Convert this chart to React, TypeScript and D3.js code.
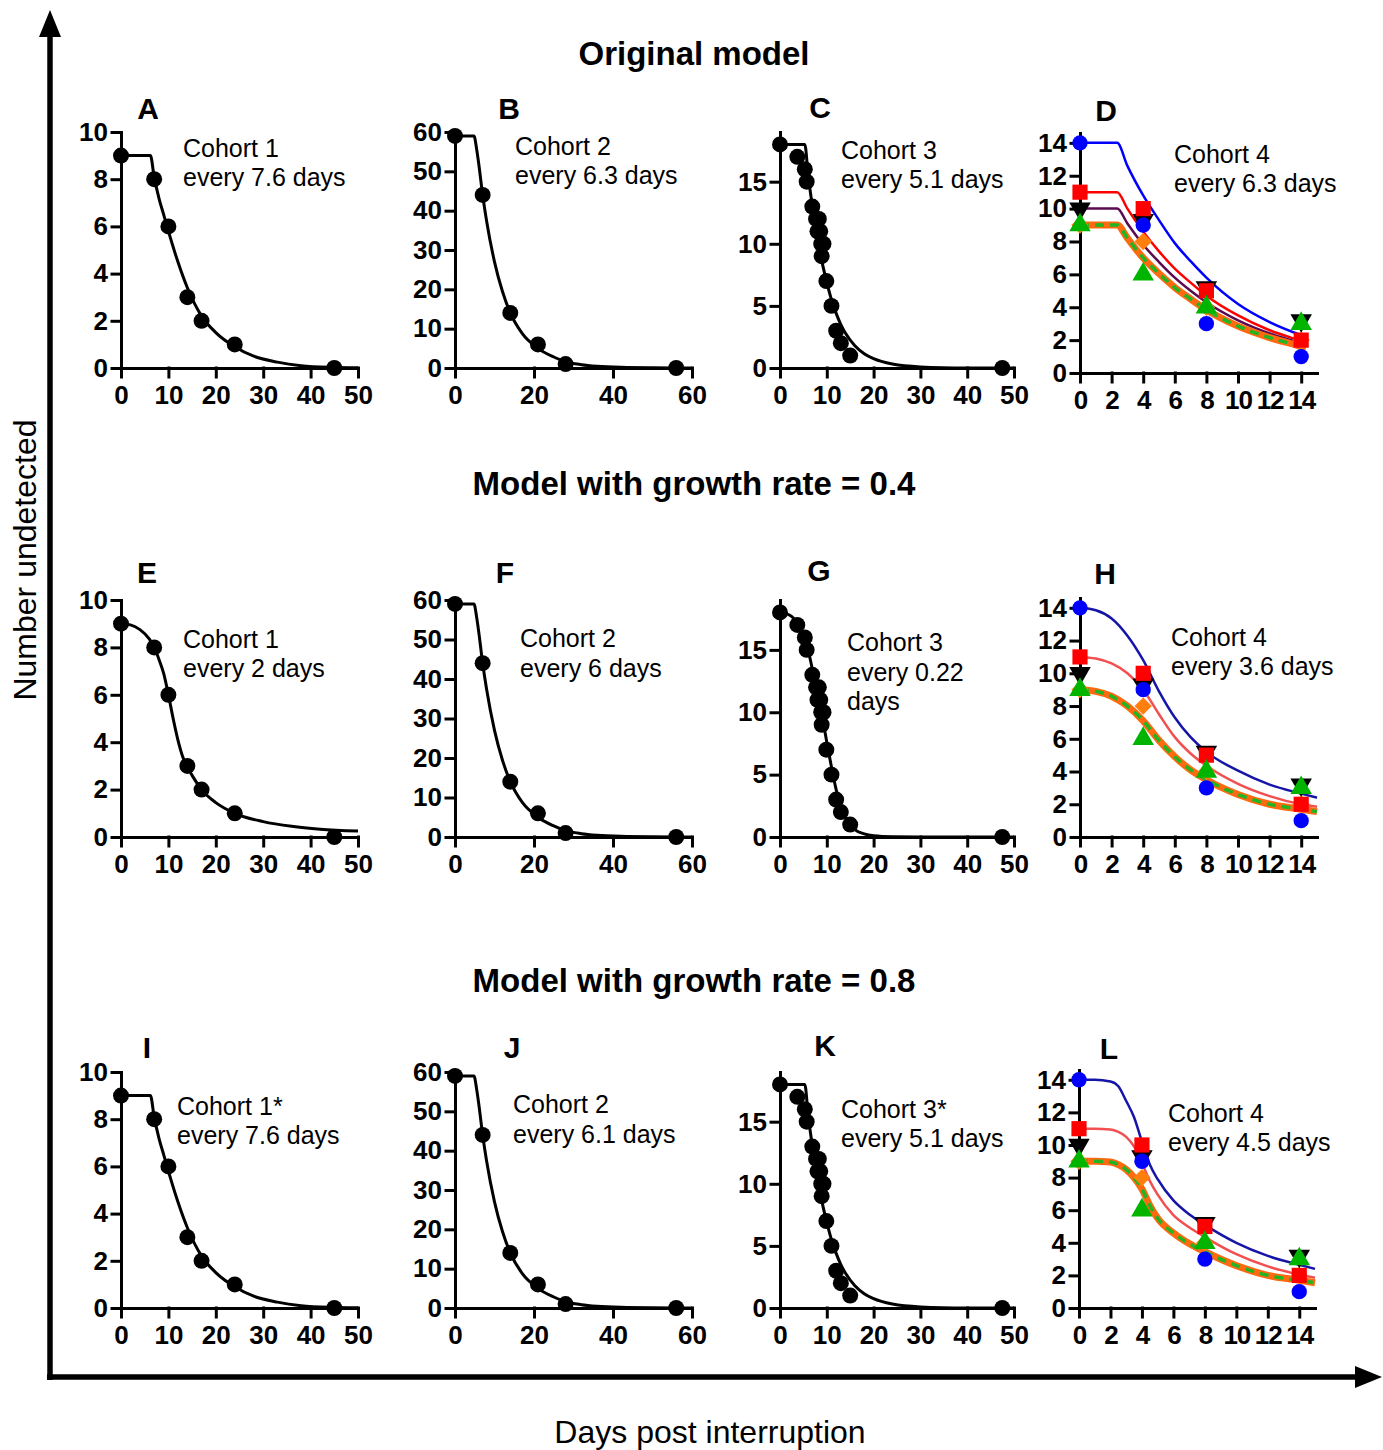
import React, { useEffect, useRef } from 'react'
import * as d3 from 'd3'

const W = 1383
const H = 1450
const FONT = '"Liberation Sans", Arial, Helvetica, sans-serif'

// observed counts per cohort
const cohort1Days = [0, 7, 10, 14, 17, 24, 45]
const cohort1Counts = [9, 8, 6, 3, 2, 1, 0]
const cohort2Days = [0, 7, 14, 21, 28, 56]
const cohort2Counts = [59, 44, 14, 6, 1, 0]
const cohort3Days = [0, 3.7, 5.3, 5.7, 6.9, 7.7, 8.3, 8.0, 8.6, 8.8, 9.3, 8.9, 9.9, 11.0, 12.0, 13.0, 15.0, 47.5]
const cohort3Counts = [18, 17, 16, 15, 13, 12, 12, 11, 11, 10, 10, 9, 7, 5, 3, 2, 1, 0]
const cohort4Days = [0, 4, 8, 14]
const subjBlue = [14, 9, 3, 1]
const subjRed = [11, 10, 5, 2]
const subjBlack = [10, 9.3, 5.2, 3.2]
const subjOrange = [9, 8, 4, 2]
const subjGreen = [9, 6, 4, 3]

// model curves
const fitADays = [0, 6.2, 7, 8, 9, 10, 12, 14, 17, 20, 24, 28, 33, 38, 44, 50]
const fitAVals = [9, 9, 8.1, 7.2, 6.5, 5.8, 4.5, 3.4, 2.2, 1.5, 0.9, 0.5, 0.25, 0.1, 0.03, 0.01]
const fitEDays = [0, 2, 4, 6, 7, 8, 9, 10, 11, 12, 13, 14, 15, 17, 20, 24, 30, 36, 42, 50]
const fitEVals = [9, 8.95, 8.75, 8.35, 8.0, 7.5, 6.9, 6.0, 5.0, 4.1, 3.4, 2.95, 2.6, 2.0, 1.45, 1.0, 0.65, 0.45, 0.33, 0.25]
const fitBDays = [0, 4.8, 5.5, 6, 7, 8, 10, 12, 14, 17, 21, 25, 28, 32, 36, 42, 50, 60]
const fitBVals = [59, 59, 55.5, 52, 44, 37.4, 27, 19.5, 14, 8.8, 5.0, 2.8, 1.6, 0.85, 0.45, 0.17, 0.05, 0.01]
const fitCDays = [0, 5.3, 6, 7, 8, 9, 10, 11, 12, 13, 14, 16, 18, 20, 24, 30, 40, 50]
const fitCVals = [18, 18, 15.6, 12.8, 10.5, 8.5, 6.9, 5.5, 4.4, 3.5, 2.8, 1.8, 1.15, 0.75, 0.32, 0.09, 0.01, 0]
const fitGDays = [0, 1, 2, 3, 4, 5, 6, 7, 8, 9, 10, 11, 12, 13, 14, 15, 16, 18, 20, 24, 30, 50]
const fitGVals = [18, 17.95, 17.8, 17.5, 17.0, 16.2, 15.0, 13.3, 11.6, 9.7, 7.6, 5.6, 3.8, 2.5, 1.6, 1.0, 0.6, 0.25, 0.1, 0.02, 0, 0]

const fitDDays = [0, 2.35, 3, 4, 5, 6, 7, 8, 10, 12, 14, 14.3]
const fitDBlue = [14, 14, 12.6, 10.8, 9.3, 7.9, 6.8, 5.8, 4.2, 3.1, 2.3, 2.2]
const fitDRed = [11, 11, 10, 8.6, 7.4, 6.35, 5.5, 4.7, 3.5, 2.6, 1.95, 1.85]
const fitDPurple = [10, 10, 9.1, 7.8, 6.75, 5.8, 5.0, 4.3, 3.2, 2.4, 1.8, 1.7]
const fitDOrange = [9, 9, 8.2, 7.0, 6.05, 5.2, 4.5, 3.85, 2.85, 2.15, 1.6, 1.5]
const fitHDays = [0, 1, 2, 3, 4, 5, 6, 7, 8, 10, 12, 14, 15]
const fitHBlue = [14, 13.85, 13.35, 12.3, 10.8, 8.9, 7.3, 6.1, 5.2, 4.05, 3.2, 2.65, 2.4]
const fitHRed = [11, 10.9, 10.6, 10.0, 9.0, 7.5, 6.1, 5.1, 4.35, 3.25, 2.5, 2.0, 1.85]
const fitHOrange = [9, 8.9, 8.6, 8.0, 7.1, 5.9, 4.9, 4.1, 3.5, 2.6, 2.0, 1.7, 1.55]
const fitLDays = [0, 1, 2, 2.5, 3, 3.5, 4, 4.5, 5, 6, 7, 8, 10, 12, 14, 15]
const fitLBlue = [14, 14, 13.9, 13.6, 12.7, 11.7, 10.2, 8.8, 7.9, 6.6, 5.75, 5.1, 4.0, 3.2, 2.65, 2.4]
const fitLRed = [11, 11, 10.95, 10.8, 10.5, 9.9, 8.9, 7.8, 6.95, 5.7, 4.95, 4.35, 3.3, 2.55, 2.05, 1.85]
const fitLOrange = [9, 9, 8.95, 8.8, 8.5, 8.0, 7.3, 6.3, 5.5, 4.6, 3.95, 3.45, 2.6, 2.0, 1.7, 1.55]

const ticks50 = [0, 10, 20, 30, 40, 50]
const ticks60 = [0, 20, 40, 60]
const ticks14 = [0, 2, 4, 6, 8, 10, 12, 14]
const yTicks10 = [0, 2, 4, 6, 8, 10]
const yTicks60 = [0, 10, 20, 30, 40, 50, 60]
const yTicks15 = [0, 5, 10, 15]

const titles = ['Original model', 'Model with growth rate = 0.4', 'Model with growth rate = 0.8']

type Curve = { days: number[]; vals: number[]; color: string; width: number; dash?: string }
type Pts = { days: number[]; vals: number[]; shape: string; color: string }
type Panel = {
  letter: string; lx: number; ly: number
  text: string[]; tx: number; ty: number[]
  x0: number; x1: number; xMax: number; xTicks: number[]
  y0: number; y1: number; yMax: number; yTicks: number[]
  curves: Curve[]; points: Pts[]
}

const black = (days: number[], vals: number[]): Curve => ({ days, vals, color: '#000', width: 3 })
const dots = (days: number[], vals: number[]): Pts => ({ days, vals, shape: 'circle', color: '#000' })

const c4Points: Pts[] = [
  { days: cohort4Days, vals: subjOrange, shape: 'diamond', color: '#ff7f0e' },
  { days: cohort4Days, vals: subjBlack, shape: 'triDown', color: '#000' },
  { days: cohort4Days, vals: subjBlue, shape: 'dot', color: '#0000ff' },
  { days: cohort4Days, vals: subjRed, shape: 'square', color: '#ff0000' },
  { days: cohort4Days, vals: subjGreen, shape: 'triUp', color: '#00b400' },
]

const rowsY = [[368, 132], [837, 600], [1308, 1072]]

const panels: Panel[] = [
  { letter: 'A', lx: 148, ly: 119, text: ['Cohort 1', 'every 7.6 days'], tx: 183, ty: [157, 186],
    x0: 121, x1: 358, xMax: 50, xTicks: ticks50, y0: rowsY[0][0], y1: rowsY[0][1], yMax: 10, yTicks: yTicks10,
    curves: [black(fitADays, fitAVals)], points: [dots(cohort1Days, cohort1Counts)] },
  { letter: 'B', lx: 509, ly: 119, text: ['Cohort 2', 'every 6.3 days'], tx: 515, ty: [155, 184],
    x0: 455, x1: 692, xMax: 60, xTicks: ticks60, y0: rowsY[0][0], y1: rowsY[0][1], yMax: 60, yTicks: yTicks60,
    curves: [black(fitBDays, fitBVals)], points: [dots(cohort2Days, cohort2Counts)] },
  { letter: 'C', lx: 820, ly: 118, text: ['Cohort 3', 'every 5.1 days'], tx: 841, ty: [159, 188],
    x0: 780, x1: 1014, xMax: 50, xTicks: ticks50, y0: rowsY[0][0], y1: rowsY[0][1], yMax: 19, yTicks: yTicks15,
    curves: [black(fitCDays, fitCVals)], points: [dots(cohort3Days, cohort3Counts)] },
  { letter: 'D', lx: 1106, ly: 121, text: ['Cohort 4', 'every 6.3 days'], tx: 1174, ty: [163, 192],
    x0: 1080, x1: 1317, xMax: 15, xTicks: ticks14, y0: 373, y1: 133, yMax: 14.6, yTicks: ticks14,
    curves: [
      { days: fitDDays.slice(0, 11), vals: fitDBlue.slice(0, 11), color: '#0000ff', width: 2.5 },
      { days: fitDDays, vals: fitDRed, color: '#ff0000', width: 2.5 },
      { days: fitDDays, vals: fitDPurple, color: '#5a0a50', width: 2.5 },
      { days: fitDDays, vals: fitDOrange, color: '#ff6a10', width: 7 },
      { days: fitDDays, vals: fitDOrange, color: '#22b422', width: 3.5, dash: '9,6' },
    ], points: c4Points },

  { letter: 'E', lx: 147, ly: 583, text: ['Cohort 1', 'every 2 days'], tx: 183, ty: [648, 677],
    x0: 121, x1: 358, xMax: 50, xTicks: ticks50, y0: rowsY[1][0], y1: rowsY[1][1], yMax: 10, yTicks: yTicks10,
    curves: [black(fitEDays, fitEVals)], points: [dots(cohort1Days, cohort1Counts)] },
  { letter: 'F', lx: 505, ly: 583, text: ['Cohort 2', 'every 6 days'], tx: 520, ty: [647, 677],
    x0: 455, x1: 692, xMax: 60, xTicks: ticks60, y0: rowsY[1][0], y1: rowsY[1][1], yMax: 60, yTicks: yTicks60,
    curves: [black(fitBDays, fitBVals)], points: [dots(cohort2Days, cohort2Counts)] },
  { letter: 'G', lx: 819, ly: 581, text: ['Cohort 3', 'every 0.22', 'days'], tx: 847, ty: [651, 681, 710],
    x0: 780, x1: 1014, xMax: 50, xTicks: ticks50, y0: rowsY[1][0], y1: rowsY[1][1], yMax: 19, yTicks: yTicks15,
    curves: [black(fitGDays, fitGVals)], points: [dots(cohort3Days, cohort3Counts)] },
  { letter: 'H', lx: 1105, ly: 584, text: ['Cohort 4', 'every 3.6 days'], tx: 1171, ty: [646, 675],
    x0: 1080, x1: 1317, xMax: 15, xTicks: ticks14, y0: 837, y1: 598, yMax: 14.6, yTicks: ticks14,
    curves: [
      { days: fitHDays, vals: fitHBlue, color: '#1515a8', width: 2.5 },
      { days: fitHDays, vals: fitHRed, color: '#f25050', width: 2.5 },
      { days: fitHDays, vals: fitHOrange, color: '#ff6a10', width: 7 },
      { days: fitHDays, vals: fitHOrange, color: '#22b422', width: 3.5, dash: '9,6' },
    ], points: c4Points },

  { letter: 'I', lx: 147, ly: 1058, text: ['Cohort 1*', 'every 7.6 days'], tx: 177, ty: [1115, 1144],
    x0: 121, x1: 358, xMax: 50, xTicks: ticks50, y0: rowsY[2][0], y1: rowsY[2][1], yMax: 10, yTicks: yTicks10,
    curves: [black(fitADays, fitAVals)], points: [dots(cohort1Days, cohort1Counts)] },
  { letter: 'J', lx: 512, ly: 1058, text: ['Cohort 2', 'every 6.1 days'], tx: 513, ty: [1113, 1143],
    x0: 455, x1: 692, xMax: 60, xTicks: ticks60, y0: rowsY[2][0], y1: rowsY[2][1], yMax: 60, yTicks: yTicks60,
    curves: [black(fitBDays, fitBVals)], points: [dots(cohort2Days, cohort2Counts)] },
  { letter: 'K', lx: 825, ly: 1056, text: ['Cohort 3*', 'every 5.1 days'], tx: 841, ty: [1118, 1147],
    x0: 780, x1: 1014, xMax: 50, xTicks: ticks50, y0: rowsY[2][0], y1: rowsY[2][1], yMax: 19, yTicks: yTicks15,
    curves: [black(fitCDays, fitCVals)], points: [dots(cohort3Days, cohort3Counts)] },
  { letter: 'L', lx: 1109, ly: 1059, text: ['Cohort 4', 'every 4.5 days'], tx: 1168, ty: [1122, 1151],
    x0: 1079, x1: 1315, xMax: 15, xTicks: ticks14, y0: 1308, y1: 1070, yMax: 14.6, yTicks: ticks14,
    curves: [
      { days: fitLDays, vals: fitLBlue, color: '#1515a8', width: 2.5 },
      { days: fitLDays, vals: fitLRed, color: '#f25050', width: 2.5 },
      { days: fitLDays, vals: fitLOrange, color: '#ff6a10', width: 7 },
      { days: fitLDays, vals: fitLOrange, color: '#22b422', width: 3.5, dash: '9,6' },
    ], points: c4Points },
]

const symbolFor = (shape: string) => {
  if (shape === 'circle') return d3.symbol(d3.symbolCircle, 200)()
  if (shape === 'dot') return d3.symbol(d3.symbolCircle, 185)()
  if (shape === 'square') return d3.symbol(d3.symbolSquare, 230)()
  if (shape === 'diamond') return d3.symbol(d3.symbolSquare, 150)()
  return d3.symbol(d3.symbolTriangle, 200)()
}

const rotateFor = (shape: string) => (shape === 'triDown' ? ' rotate(180)' : shape === 'diamond' ? ' rotate(45)' : '')

export default function App() {
  const ref = useRef<SVGSVGElement>(null)

  useEffect(() => {
    const svg = d3.select(ref.current)
    svg.selectAll('*').remove()
    svg.append('rect').attr('width', W).attr('height', H).attr('fill', '#fff')

    panels.forEach(p => {
      const x = d3.scaleLinear().domain([0, p.xMax]).range([p.x0, p.x1])
      const y = d3.scaleLinear().domain([0, p.yMax]).range([p.y0, p.y1])
      const g = svg.append('g')

      const xAxis = d3.axisBottom(x).tickValues(p.xTicks).tickSize(9).tickSizeOuter(0).tickPadding(9).tickFormat(d3.format('d'))
      const yAxis = d3.axisLeft(y).tickValues(p.yTicks).tickSize(9).tickSizeOuter(0).tickPadding(4).tickFormat(d3.format('d'))
      const xg = g.append('g').attr('transform', `translate(0,${p.y0})`).call(xAxis)
      const yg = g.append('g').attr('transform', `translate(${p.x0},0)`).call(yAxis)
      ;[xg, yg].forEach(ax => {
        ax.selectAll('path, line').attr('stroke', '#000').attr('stroke-width', 3).attr('stroke-linecap', 'square')
        ax.selectAll('text').attr('fill', '#000').attr('font-family', FONT).attr('font-size', 26).attr('font-weight', 'bold')
      })
      if (p.xMax === 15) xg.selectAll('text').attr('letter-spacing', -1)

      const line = d3.line<[number, number]>().x(d => x(d[0])).y(d => y(d[1])).curve(d3.curveMonotoneX)
      p.curves.forEach(c => {
        g.append('path')
          .attr('d', line(c.days.map((d, i) => [d, c.vals[i]] as [number, number])))
          .attr('fill', 'none').attr('stroke', c.color).attr('stroke-width', c.width)
          .attr('stroke-dasharray', c.dash || null)
      })

      p.points.forEach(s => {
        g.append('g').selectAll('path').data(s.days.map((d, i) => [d, s.vals[i]]))
          .join('path')
          .attr('d', symbolFor(s.shape))
          .attr('transform', d => `translate(${x(d[0])},${y(d[1])})${rotateFor(s.shape)}`)
          .attr('fill', s.color)
      })

      g.append('text').text(p.letter).attr('x', p.lx).attr('y', p.ly).attr('text-anchor', 'middle')
        .attr('font-family', FONT).attr('font-size', 30).attr('font-weight', 'bold')
      p.text.forEach((t, i) => {
        g.append('text').text(t).attr('x', p.tx).attr('y', p.ty[i])
          .attr('font-family', FONT).attr('font-size', 25)
      })
    })

    const titleY = [65, 495, 992]
    titles.forEach((t, i) => {
      svg.append('text').text(t).attr('x', 694).attr('y', titleY[i]).attr('text-anchor', 'middle')
        .attr('font-family', FONT).attr('font-size', 33).attr('font-weight', 'bold')
    })

    // outer axes with arrows
    svg.append('line').attr('x1', 50).attr('y1', 1380).attr('x2', 50).attr('y2', 30).attr('stroke', '#000').attr('stroke-width', 5.5)
    svg.append('line').attr('x1', 47).attr('y1', 1377).attr('x2', 1360).attr('y2', 1377).attr('stroke', '#000').attr('stroke-width', 5.5)
    svg.append('path').attr('d', 'M50,10L61,37L39,37Z').attr('fill', '#000')
    svg.append('path').attr('d', 'M1382,1377L1355,1366L1355,1388Z').attr('fill', '#000')

    svg.append('text').text('Number undetected').attr('transform', 'translate(36,560) rotate(-90)')
      .attr('text-anchor', 'middle').attr('font-family', FONT).attr('font-size', 32)
    svg.append('text').text('Days post interruption').attr('x', 710).attr('y', 1443)
      .attr('text-anchor', 'middle').attr('font-family', FONT).attr('font-size', 32)
  }, [])

  return <svg ref={ref} width={W} height={H} style={{ position: 'absolute', left: 0, top: 0, display: 'block' }} />
}
